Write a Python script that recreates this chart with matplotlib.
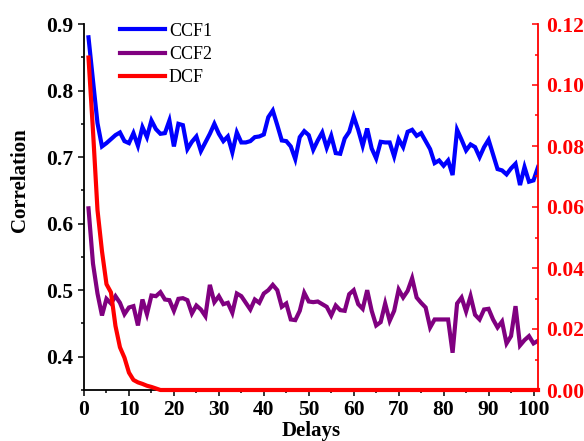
import matplotlib
matplotlib.use("Agg")
import matplotlib.pyplot as plt
from matplotlib.ticker import MultipleLocator

delays = list(range(1, 102))

ccf1 = [0.880, 0.815, 0.751, 0.716, 0.721, 0.727, 0.733, 0.737, 0.724, 0.721,
        0.736, 0.717, 0.745, 0.730, 0.755, 0.742, 0.735, 0.736, 0.755, 0.716,
        0.750, 0.748, 0.712, 0.723, 0.731, 0.709, 0.722, 0.735, 0.750, 0.735,
        0.724, 0.731, 0.707, 0.737, 0.722, 0.722, 0.724, 0.730, 0.731, 0.734,
        0.760, 0.770, 0.748, 0.725, 0.724, 0.716, 0.697, 0.730, 0.739, 0.733,
        0.711, 0.725, 0.737, 0.714, 0.732, 0.706, 0.705, 0.728, 0.738, 0.761,
        0.741, 0.717, 0.743, 0.713, 0.698, 0.723, 0.722, 0.722, 0.701, 0.727,
        0.715, 0.738, 0.741, 0.732, 0.736, 0.724, 0.712, 0.691, 0.695, 0.687,
        0.695, 0.673, 0.741, 0.726, 0.710, 0.719, 0.715, 0.700, 0.715, 0.726,
        0.704, 0.682, 0.680, 0.674, 0.683, 0.690, 0.658, 0.685, 0.663, 0.665,
        0.685]

ccf2 = [0.623, 0.540, 0.495, 0.462, 0.487, 0.480, 0.491, 0.481, 0.464, 0.474,
        0.476, 0.447, 0.486, 0.464, 0.492, 0.491, 0.497, 0.486, 0.485, 0.469,
        0.487, 0.488, 0.485, 0.465, 0.477, 0.471, 0.461, 0.508, 0.482, 0.491,
        0.479, 0.481, 0.466, 0.495, 0.491, 0.481, 0.471, 0.486, 0.481, 0.495,
        0.500, 0.508, 0.500, 0.475, 0.480, 0.456, 0.455, 0.469, 0.496, 0.483,
        0.482, 0.483, 0.479, 0.475, 0.462, 0.477, 0.470, 0.469, 0.494, 0.500,
        0.479, 0.472, 0.500, 0.469, 0.447, 0.452, 0.480, 0.454, 0.469, 0.501,
        0.489, 0.499, 0.518, 0.489, 0.481, 0.474, 0.444, 0.456, 0.456, 0.456,
        0.456, 0.406, 0.480, 0.489, 0.468, 0.491, 0.463, 0.456, 0.471, 0.472,
        0.456, 0.444, 0.453, 0.420, 0.431, 0.476, 0.417, 0.425, 0.431, 0.420,
        0.424]

dcf = [0.109, 0.085, 0.059, 0.0455, 0.0347, 0.032, 0.0210, 0.014, 0.0106, 0.0057,
       0.0033, 0.0025, 0.0020, 0.0014, 0.0010, 0.0005] + [0.0] * 85

x_ticks = [0, 10, 20, 30, 40, 50, 60, 70, 80, 90, 100]
left_ticks = [0.4, 0.5, 0.6, 0.7, 0.8, 0.9]
right_ticks = [0.00, 0.02, 0.04, 0.06, 0.08, 0.10, 0.12]

plt.rcParams['font.family'] = ['Liberation Serif', 'DejaVu Serif']

W, H = 584, 441
fig = plt.figure(figsize=(W / 100, H / 100), dpi=100)
ax = fig.add_axes([84 / W, 1 - 390 / H, (538 - 84) / W, (390 - 24) / H])
ax2 = ax.twinx()

l1, = ax.plot(delays, ccf1, color='#0000FF', lw=3, label='CCF1', solid_joinstyle='miter')
l2, = ax.plot(delays, ccf2, color='#800080', lw=3, label='CCF2', solid_joinstyle='miter')
l3, = ax2.plot(delays, dcf, color='#FF0000', lw=3, label='DCF', clip_on=False)

ax.set_xlim(0, 101)
ax.set_ylim(0.35, 0.9)
ax2.set_ylim(0, 0.12)

ax.set_xticks(x_ticks)
ax.xaxis.set_minor_locator(MultipleLocator(5))
ax.set_yticks(left_ticks)
ax.yaxis.set_minor_locator(MultipleLocator(0.05))
ax2.set_yticks(right_ticks)
ax2.yaxis.set_minor_locator(MultipleLocator(0.01))

ax.set_xticklabels([str(t) for t in x_ticks])
ax.set_yticklabels([f"{t:.1f}" for t in left_ticks])
ax2.set_yticklabels([f"{t:.2f}" for t in right_ticks])

for s in ['top', 'right']:
    ax.spines[s].set_visible(False)
for s in ['top', 'left', 'bottom']:
    ax2.spines[s].set_visible(False)
ax2.spines['right'].set_color('#FF0000')
ax2.spines['right'].set_linewidth(1.3)
ax.spines['left'].set_linewidth(1.3)
ax.spines['bottom'].set_linewidth(1.3)

fs = 15.5
ax.tick_params(axis='both', which='major', direction='out', length=4.5, width=1.1,
               labelsize=fs, pad=3)
ax.tick_params(axis='both', which='minor', direction='out', length=2.5, width=1.1)
ax2.tick_params(axis='y', which='major', direction='in', length=4.5, width=1.1,
                colors='#FF0000', labelsize=fs, pad=6)
ax2.tick_params(axis='y', which='minor', direction='in', length=2.5, width=1.1,
                colors='#FF0000')
for lab in ax.get_xticklabels() + ax.get_yticklabels() + ax2.get_yticklabels():
    lab.set_fontweight('bold')

ax.set_ylabel('Correlation', fontsize=15, fontweight='bold')
ax.set_xlabel('Delays', fontsize=15, fontweight='bold')
ax.yaxis.set_label_coords(-0.12, 0.574)
ax.xaxis.set_label_coords(0.5, -0.086)

leg = ax.legend(handles=[l1, l2, l3], loc='upper left',
                bbox_to_anchor=((120 - 84) / 454, (390 - 22.5) / 366),
                frameon=False, fontsize=13, handlelength=2.5, handletextpad=0.2,
                labelspacing=0.36, borderpad=0, borderaxespad=0)
leg.set_zorder(10)

fig.savefig('out.png', dpi=100)
